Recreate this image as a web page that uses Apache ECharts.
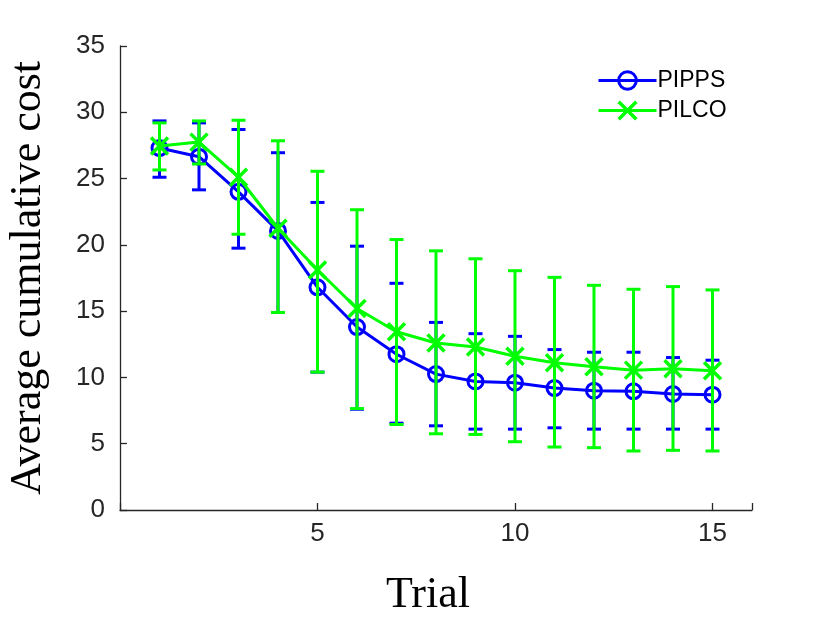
<!DOCTYPE html>
<html>
<head>
<meta charset="utf-8">
<script src="https://cdn.jsdelivr.net/npm/echarts@6/dist/echarts.min.js"></script>
<style>html,body{margin:0;padding:0;background:#fff}#c{width:830px;height:622px}</style>
</head>
<body>
<div id="c"></div>
<script>
const trials = [1, 2, 3, 4, 5, 6, 7, 8, 9, 10, 11, 12, 13, 14, 15];
const xTicks = [5, 10, 15];
const pippsMean = [27.3, 26.65, 24.0, 21.05, 16.8, 13.8, 11.75, 10.25, 9.7, 9.6, 9.2, 9.0, 8.95, 8.75, 8.7];
const pippsLow = [25.1, 24.15, 19.75, 14.9, 10.4, 7.6, 6.55, 6.35, 6.1, 6.1, 6.2, 6.1, 6.1, 6.1, 6.1];
const pippsHigh = [29.35, 29.2, 28.7, 26.95, 23.2, 19.9, 17.1, 14.15, 13.3, 13.1, 12.1, 11.9, 11.9, 11.5, 11.3];
const pilcoMean = [27.45, 27.75, 25.1, 21.25, 18.1, 15.2, 13.45, 12.6, 12.3, 11.6, 11.1, 10.8, 10.55, 10.65, 10.5];
const pilcoLow = [25.65, 26.1, 20.8, 14.9, 10.4, 7.65, 6.45, 5.75, 5.7, 5.15, 4.75, 4.7, 4.45, 4.5, 4.45];
const pilcoHigh = [29.2, 29.35, 29.4, 27.85, 25.55, 22.65, 20.4, 19.55, 18.95, 18.05, 17.55, 16.95, 16.65, 16.85, 16.6];

const BLUE = '#0000ff', GREEN = '#00ff00', AXIS = '#262626';
const X_PATH = 'path://M0,0 L10,10 M10,0 L0,10';

function errData(low, high) {
  return trials.map((t, i) => [t, low[i], high[i]]);
}
function errRender(color) {
  return function (params, api) {
    const x = api.value(0);
    const lo = api.coord([x, api.value(1)]);
    const hi = api.coord([x, api.value(2)]);
    const hw = 7;
    const style = { stroke: color, lineWidth: 3, fill: null };
    return {
      type: 'group',
      children: [
        { type: 'line', shape: { x1: lo[0], y1: lo[1], x2: hi[0], y2: hi[1] }, style },
        { type: 'line', shape: { x1: lo[0] - hw, y1: lo[1], x2: lo[0] + hw, y2: lo[1] }, style },
        { type: 'line', shape: { x1: hi[0] - hw, y1: hi[1], x2: hi[0] + hw, y2: hi[1] }, style }
      ]
    };
  };
}

const chart = echarts.init(document.getElementById('c'), null, { renderer: 'canvas' });
chart.setOption({
  animation: false,
  backgroundColor: '#ffffff',
  grid: { left: 120, right: 78, top: 46, bottom: 112, containLabel: false, outerBoundsMode: 'none' },
  legend: {
    orient: 'vertical',
    left: 597,
    top: 69,
    padding: 0,
    itemWidth: 58,
    itemHeight: 22,
    itemGap: 7,
    textStyle: { fontFamily: 'Liberation Sans', fontSize: 23, color: '#000', padding: [0, 0, 0, -4] },
    data: [
      { name: 'PIPPS', itemStyle: { color: 'rgba(0,0,0,0)', borderColor: BLUE, borderWidth: 3 }, lineStyle: { color: BLUE, width: 3 } },
      { name: 'PILCO', itemStyle: { color: 'rgba(0,0,0,0)', borderColor: GREEN, borderWidth: 3.5 }, lineStyle: { color: GREEN, width: 3 } }
    ]
  },
  xAxis: {
    type: 'value', min: 0, max: 16, interval: 5,
    name: 'Trial', nameLocation: 'middle', nameGap: 63,
    nameTextStyle: { fontFamily: 'Liberation Serif', fontSize: 44, color: '#000', padding: [0, 16, 0, 0] },
    axisLine: { lineStyle: { color: AXIS, width: 1.3 } },
    axisTick: { inside: true, length: 7, lineStyle: { color: AXIS, width: 1.3 } },
    axisLabel: {
      fontFamily: 'Liberation Sans', fontSize: 26, color: AXIS, margin: 11,
      formatter: v => (xTicks.indexOf(v) >= 0 ? String(v) : '')
    },
    splitLine: { show: false }
  },
  yAxis: {
    type: 'value', min: 0, max: 35, interval: 5,
    name: 'Average cumulative cost', nameLocation: 'middle', nameGap: 70, nameRotate: 90,
    nameTextStyle: { fontFamily: 'Liberation Serif', fontSize: 44, color: '#000' },
    axisLine: { show: true, lineStyle: { color: AXIS, width: 1.3 } },
    axisTick: { show: true, inside: true, length: 7, lineStyle: { color: AXIS, width: 1.3 } },
    axisLabel: { fontFamily: 'Liberation Sans', fontSize: 26, color: AXIS, margin: 15 },
    splitLine: { show: false }
  },
  series: [
    {
      name: 'PIPPS-err', type: 'custom', z: 2, renderItem: errRender(BLUE),
      data: errData(pippsLow, pippsHigh), encode: { x: 0, y: [1, 2] }, silent: true
    },
    {
      name: 'PIPPS', type: 'line', z: 3,
      data: trials.map((t, i) => [t, pippsMean[i]]),
      symbol: 'circle', symbolSize: 15, showAllSymbol: true,
      lineStyle: { color: BLUE, width: 3 },
      itemStyle: { color: 'rgba(0,0,0,0)', borderColor: BLUE, borderWidth: 3 }
    },
    {
      name: 'PILCO-err', type: 'custom', z: 4, renderItem: errRender(GREEN),
      data: errData(pilcoLow, pilcoHigh), encode: { x: 0, y: [1, 2] }, silent: true
    },
    {
      name: 'PILCO', type: 'line', z: 5,
      data: trials.map((t, i) => [t, pilcoMean[i]]),
      symbol: X_PATH, symbolSize: 17, showAllSymbol: true,
      lineStyle: { color: GREEN, width: 3 },
      itemStyle: { color: 'rgba(0,0,0,0)', borderColor: GREEN, borderWidth: 3.5 }
    }
  ]
});
</script>
</body>
</html>
